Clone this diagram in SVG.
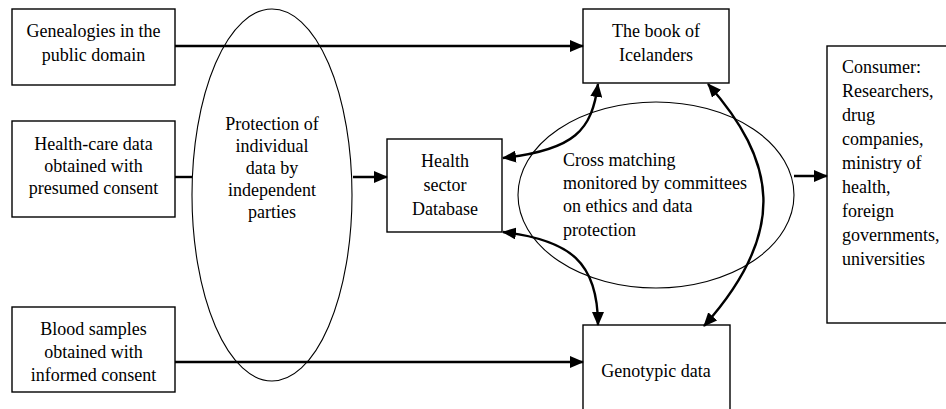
<svg xmlns="http://www.w3.org/2000/svg" width="946" height="409" viewBox="0 0 946 409">
<style>
.box{fill:#fff;stroke:#000;stroke-width:1.4}
.ell{fill:none;stroke:#000;stroke-width:1.1}
.t{font-family:"Liberation Serif","Times New Roman",serif;font-size:18px;fill:#000}
.c{text-anchor:middle}
.ln{fill:none;stroke:#000;stroke-width:2.4}
</style>
<defs>
<marker id="ah" markerUnits="userSpaceOnUse" markerWidth="14" markerHeight="12" refX="13" refY="6" orient="auto-start-reverse" viewBox="0 0 14 12">
<path d="M0,0 L14,6 L0,12 z" fill="#000"/>
</marker>
</defs>
<rect width="946" height="409" fill="#fff"/>
<g id="n-genealogies">
<rect class="box" x="12" y="9" width="163" height="76"/>
<text class="t c" x="93.5" y="37">Genealogies in the</text>
<text class="t c" x="93.5" y="61">public domain</text>
</g>
<g id="n-healthcare">
<rect class="box" x="12" y="121" width="163" height="96"/>
<text class="t c" x="93.5" y="150">Health-care data</text>
<text class="t c" x="93.5" y="172">obtained with</text>
<text class="t c" x="93.5" y="194">presumed consent</text>
</g>
<g id="n-blood">
<rect class="box" x="12" y="307" width="163" height="85"/>
<text class="t c" x="93.5" y="335">Blood samples</text>
<text class="t c" x="93.5" y="358">obtained with</text>
<text class="t c" x="93.5" y="381">informed consent</text>
</g>
<g id="n-protection">
<ellipse class="ell" cx="272" cy="195" rx="80" ry="186"/>
<text class="t c" x="272" y="130">Protection of</text>
<text class="t c" x="272" y="152">individual</text>
<text class="t c" x="272" y="174">data by</text>
<text class="t c" x="272" y="196">independent</text>
<text class="t c" x="272" y="218">parties</text>
</g>
<g id="n-book">
<rect class="box" x="583" y="9" width="146" height="74"/>
<text class="t c" x="656" y="37">The book of</text>
<text class="t c" x="656" y="61">Icelanders</text>
</g>
<g id="n-hsd">
<rect class="box" x="387" y="139" width="115" height="93"/>
<text class="t c" x="445" y="167">Health</text>
<text class="t c" x="445" y="191">sector</text>
<text class="t c" x="445" y="215">Database</text>
</g>
<g id="n-cross">
<ellipse class="ell" cx="656" cy="195" rx="138" ry="93"/>
<text class="t" x="563" y="166">Cross matching</text>
<text class="t" x="563" y="189">monitored by committees</text>
<text class="t" x="563" y="212">on ethics and data</text>
<text class="t" x="563" y="236">protection</text>
</g>
<g id="n-genotypic">
<rect class="box" x="583" y="325" width="147" height="100"/>
<text class="t c" x="656" y="377">Genotypic data</text>
</g>
<g id="n-consumer">
<rect class="box" x="827" y="46" width="130" height="277"/>
<text class="t" x="842" y="73">Consumer:</text>
<text class="t" x="842" y="97">Researchers,</text>
<text class="t" x="842" y="121">drug</text>
<text class="t" x="842" y="145">companies,</text>
<text class="t" x="842" y="169">ministry of</text>
<text class="t" x="842" y="193">health,</text>
<text class="t" x="842" y="217">foreign</text>
<text class="t" x="842" y="241">governments,</text>
<text class="t" x="842" y="265">universities</text>
</g>
<g id="connectors">
<line class="ln" x1="175" y1="46" x2="583" y2="46" marker-end="url(#ah)"/>
<line class="ln" x1="175" y1="177" x2="192" y2="177"/>
<line class="ln" x1="353" y1="177" x2="387" y2="177" marker-end="url(#ah)"/>
<line class="ln" x1="175" y1="362" x2="583" y2="362" marker-end="url(#ah)"/>
<line class="ln" x1="794" y1="176" x2="827" y2="176" marker-end="url(#ah)"/>
<path class="ln" d="M503,158 C575,150 592,130 598,84" marker-start="url(#ah)" marker-end="url(#ah)"/>
<path class="ln" d="M503,232 C570,240 598,262 598,325" marker-start="url(#ah)" marker-end="url(#ah)"/>
<path class="ln" d="M708,84 C775,160 790,230 704,326" marker-start="url(#ah)" marker-end="url(#ah)"/>
</g>
</svg>
